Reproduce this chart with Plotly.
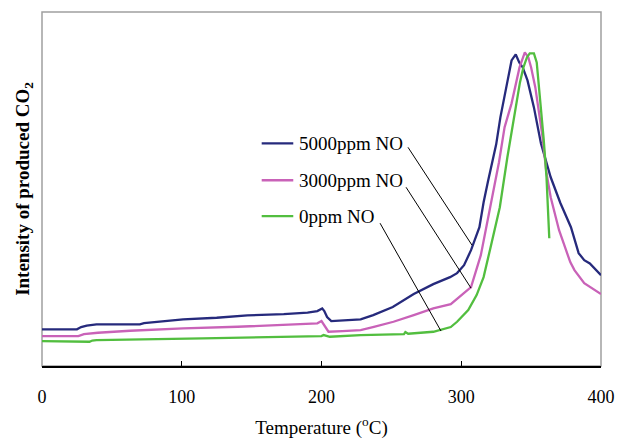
import plotly.graph_objects as go

# ---- data (temperature in °C, intensity in arbitrary units) ----
t_5000 = [0, 25, 28, 32, 39, 50, 70, 73, 80, 101, 125, 147, 173, 190, 197, 200.5, 202, 204, 207,
          215, 228, 237, 251, 266, 280, 292, 297, 302, 307, 313, 316, 319, 322, 325, 328, 333, 336,
          339, 341.5, 344, 347.4, 352, 357, 364, 371, 378.5, 384, 388, 392, 400]
v_5000 = [37.7, 37.7, 40, 41.5, 42.7, 42.7, 42.7, 44, 45, 47.7, 49.3, 51.7, 53, 54.5, 56, 58.7, 56, 50, 46,
          46.5, 47.7, 52, 60, 73, 83, 90, 94, 102, 117, 140, 165, 185, 205, 223, 250, 288, 307,
          313, 305, 300, 287, 260, 224, 190, 164, 140, 114, 107, 103.7, 92]

t_3000 = [0, 26, 30, 40, 63, 101, 140, 173, 197, 200, 202, 205, 215, 228, 237.5, 251.5, 266, 280,
          292.5, 302, 307, 314, 318, 323, 327, 331, 336, 341.7, 345.5, 348, 350, 353, 356, 358, 361,
          364, 370, 378, 381, 388, 400]
v_3000 = [31, 31, 33, 34.3, 36.3, 38.7, 40.3, 42, 43.7, 46, 42, 35.3, 36, 37, 40.3, 45.3, 52, 58.7,
          63, 73.7, 80, 112, 140, 175, 205, 240, 264, 300, 315, 310, 300, 280, 248, 232, 194,
          170, 137, 105, 97, 84, 73]

t_0 = [0, 26, 27, 34, 36, 39, 115, 183, 200, 201.5, 206, 228, 259, 260, 262, 280, 288, 292.5, 297,
       305, 311, 316, 321, 327.6, 333, 336, 339, 342, 344.5, 347, 349, 352, 354, 355.6, 357, 359,
       361, 362, 363]
v_0 = [26, 26, 25.3, 25.3, 26.5, 27, 28.7, 30.3, 31, 32, 30.3, 32, 33, 35, 33.3, 35.3, 38.7, 40, 45.3,
       57, 72, 90, 120, 160, 210, 235, 260, 285, 300, 310, 314, 314, 305, 282, 260, 228,
       190, 165, 129]

series_names = ["5000ppm NO", "3000ppm NO", "0ppm NO"]
series_colors = ["#262a7c", "#c962b8", "#52be3f"]
legend_y = [224, 187, 151]
# leader lines: label end -> point on curve (T, value)
leader_start = [(261.9, 220), (260.5, 180), (241.9, 144)]
leader_end = [(307.7, 122), (307.0, 79), (285.5, 36)]

x_ticks = [0, 100, 200, 300, 400]

serif = "Liberation Serif, Times New Roman, serif"

fig = go.Figure()
for t, v, name, col in zip([t_5000, t_3000, t_0], [v_5000, v_3000, v_0], series_names, series_colors):
    fig.add_trace(go.Scatter(x=t, y=v, mode="lines", name=name,
                             line=dict(color=col, width=2.3), showlegend=False))

shapes = [dict(type="rect", xref="paper", yref="paper", x0=0, x1=1, y0=0, y1=1,
               line=dict(color="#a0a0a0", width=1.5), layer="below")]
annotations = []
for name, col, ly, (sx, sy), (ex, ey) in zip(series_names, series_colors, legend_y, leader_start, leader_end):
    shapes.append(dict(type="line", xref="x", yref="y", x0=157.2, x1=179.8, y0=ly, y1=ly,
                       line=dict(color=col, width=2.3)))
    shapes.append(dict(type="line", xref="x", yref="y", x0=sx, x1=ex, y0=sy, y1=ey,
                       line=dict(color="black", width=1)))
    annotations.append(dict(x=182.5, y=ly, xref="x", yref="y", text=name, showarrow=False,
                            xanchor="left", yanchor="middle",
                            font=dict(family=serif, size=19, color="black")))

fig.update_layout(
    width=617, height=439,
    margin=dict(l=42, r=16, t=12, b=73),
    paper_bgcolor="white", plot_bgcolor="white",
    shapes=shapes, annotations=annotations,
    xaxis=dict(range=[0, 400], tickvals=x_ticks, ticks="inside", ticklen=5, tickcolor="black",
               showline=True, linecolor="black", linewidth=1.5, showgrid=False, zeroline=False,
               automargin=False, ticklabelstandoff=14,
               tickfont=dict(family=serif, size=18, color="black"),
               title=dict(text="Temperature (<sup>o</sup>C)", standoff=14,
                          font=dict(family=serif, size=19, color="black"))),
    yaxis=dict(range=[1, 355.5], showticklabels=False, ticks="", showgrid=False, zeroline=False,
               showline=False, automargin=False,
               title=dict(text="<b>Intensity of produced CO<sub>2</sub></b>", standoff=6,
                          font=dict(family=serif, size=19, color="black"))),
)

fig.write_html("out.html")
